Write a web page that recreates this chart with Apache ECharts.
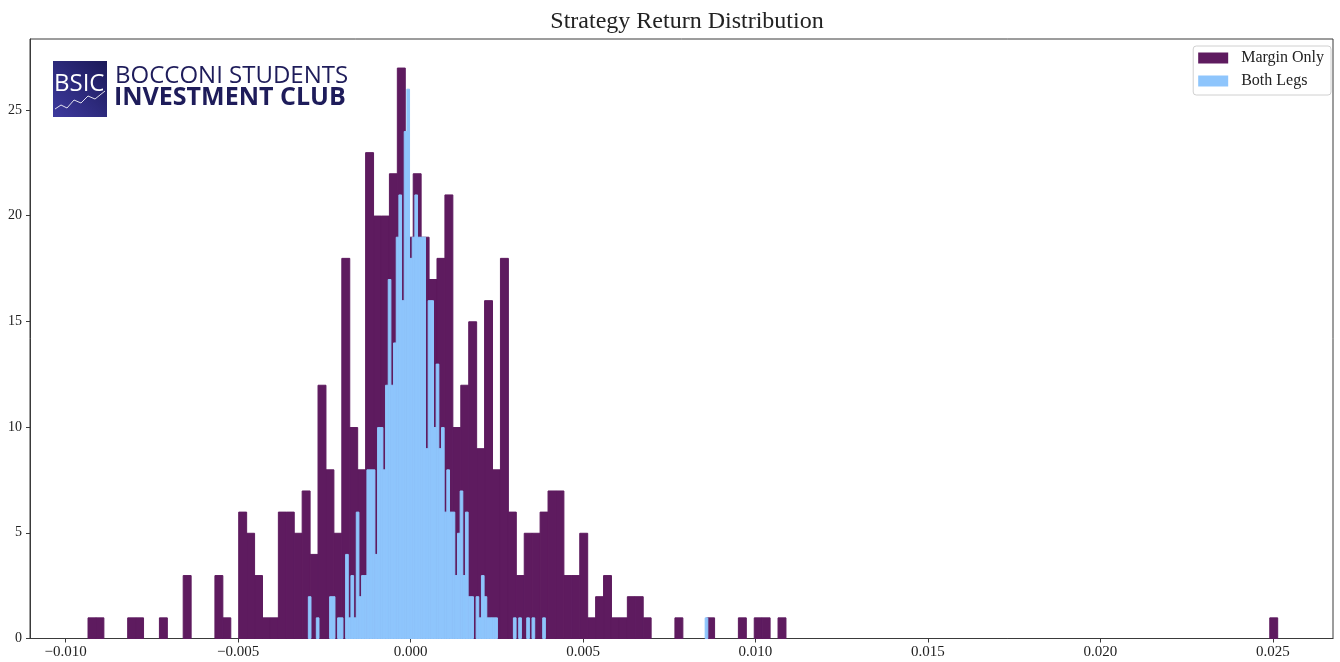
<!DOCTYPE html>
<html>
<head>
<meta charset="utf-8">
<title>Strategy Return Distribution</title>
<script src="https://cdn.jsdelivr.net/npm/echarts@6/dist/echarts.min.js"></script>
<style>
  html, body { margin: 0; padding: 0; background: #fff; }
  #chart { width: 1340px; height: 662px; }
</style>
</head>
<body>
<div id="chart"></div>
<script>
// histogram bins: first edge + bin width, counts per bin
const marginStart = -0.009348;
const marginWidth = 0.0002299;
const marginCounts = [
  1, 1, 0, 0, 0, 1, 1, 0, 0, 1,
  0, 0, 3, 0, 0, 0, 3, 1, 0, 6,
  5, 3, 1, 1, 6, 6, 5, 7, 4, 12,
  8, 5, 18, 10, 8, 23, 20, 20, 22, 27,
  19, 22, 19, 17, 18, 21, 10, 12, 15, 9,
  16, 8, 18, 6, 3, 5, 5, 6, 7, 7,
  3, 3, 5, 1, 2, 3, 1, 1, 2, 2,
  1, 0, 0, 0, 1, 0, 0, 0, 1, 0,
  0, 0, 1, 0, 1, 1, 0, 1, 0, 0,
  0, 0, 0, 0, 0, 0, 0, 0, 0, 0,
  0, 0, 0, 0, 0, 0, 0, 0, 0, 0,
  0, 0, 0, 0, 0, 0, 0, 0, 0, 0,
  0, 0, 0, 0, 0, 0, 0, 0, 0, 0,
  0, 0, 0, 0, 0, 0, 0, 0, 0, 0,
  0, 0, 0, 0, 0, 0, 0, 0, 0, 1
];

const bothStart = -0.002962;
const bothWidth = 0.0000772;
const bothCounts = [
  2, 0, 0, 1, 0, 0, 0, 0, 2, 2,
  0, 1, 1, 0, 4, 1, 3, 1, 6, 2,
  3, 3, 8, 8, 8, 4, 10, 10, 8, 12,
  17, 12, 14, 19, 21, 16, 24, 26, 18, 19,
  21, 19, 19, 19, 9, 16, 16, 10, 13, 9,
  10, 6, 8, 6, 6, 3, 5, 7, 3, 6,
  2, 2, 0, 2, 1, 3, 2, 1, 1, 1,
  1, 0, 0, 0, 0, 0, 0, 1, 0, 1,
  0, 0, 1, 0, 1, 0, 0, 0, 1, 0,
  0, 0, 0, 0, 0, 0, 0, 0, 0, 0,
  0, 0, 0, 0, 0, 0, 0, 0, 0, 0,
  0, 0, 0, 0, 0, 0, 0, 0, 0, 0,
  0, 0, 0, 0, 0, 0, 0, 0, 0, 0,
  0, 0, 0, 0, 0, 0, 0, 0, 0, 0,
  0, 0, 0, 0, 0, 0, 0, 0, 0, 1
];

const xTicks = [-0.010, -0.005, 0.000, 0.005, 0.010, 0.015, 0.020, 0.025];
const yTicks = [0, 5, 10, 15, 20, 25];

const seriesNames = ['Margin Only', 'Both Legs'];
const seriesColors = ['#5e1b5f', '#8ec5fc'];

const FONT = '"Liberation Serif", "DejaVu Serif", serif';

// [left edge, right edge, count], empty bins dropped
function toBins(start, width, counts) {
  const out = [];
  counts.forEach((c, i) => {
    if (c > 0) out.push([start + i * width, start + (i + 1) * width, c]);
  });
  return out;
}

function histSeries(name, color, data) {
  return {
    name: name,
    type: 'custom',
    itemStyle: { color: color },
    encode: { x: [0, 1], y: 2 },
    data: data,
    renderItem: (params, api) => {
      const p0 = api.coord([api.value(0), 0]);
      const p1 = api.coord([api.value(1), api.value(2)]);
      return {
        type: 'rect',
        shape: { x: p0[0], y: p1[1] + 0.5, width: p1[0] - p0[0], height: p0[1] - p1[1] - 0.5 },
        // stroke in the fill colour hides the seams between bins
        style: { fill: color, stroke: color, lineWidth: 1 }
      };
    }
  };
}

const chart = echarts.init(document.getElementById('chart'));

const option = {
  animation: false,
  title: {
    text: 'Strategy Return Distribution',
    left: 682,
    top: 5,
    textAlign: 'center',
    textStyle: { fontFamily: FONT, fontSize: 24, fontWeight: 'normal', color: '#222' }
  },
  legend: {
    data: seriesNames,
    orient: 'vertical',
    right: 9,
    top: 46,
    icon: 'rect',
    itemWidth: 30,
    itemHeight: 11,
    itemGap: 7,
    padding: [4, 7, 6, 5],
    borderColor: '#d0d0d0',
    borderWidth: 1,
    borderRadius: 3,
    backgroundColor: 'rgba(255,255,255,0.8)',
    textStyle: { fontFamily: FONT, fontSize: 16, color: '#222', padding: [0, 0, 0, 8] }
  },
  grid: {
    left: 30,
    right: 7,
    top: 39,
    bottom: 23.5,
    show: true,
    borderColor: '#3a3a3a',
    borderWidth: 1,
    backgroundColor: 'transparent'
  },
  xAxis: {
    type: 'value',
    min: -0.01103,
    max: 0.02674,
    splitLine: { show: false },
    axisLine: { show: true, onZero: false, lineStyle: { color: '#3a3a3a' } },
    axisTick: { show: true, inside: false, length: 4, customValues: xTicks, lineStyle: { color: '#3a3a3a' } },
    axisLabel: {
      customValues: xTicks,
      margin: 6,
      fontFamily: FONT,
      fontSize: 15,
      color: '#222',
      formatter: v => v.toFixed(3).replace('-', '\u2212')
    }
  },
  yAxis: {
    type: 'value',
    min: 0,
    max: 28.35,
    splitLine: { show: false },
    axisLine: { show: true, onZero: false, lineStyle: { color: '#3a3a3a' } },
    axisTick: { show: true, inside: false, length: 4, customValues: yTicks, lineStyle: { color: '#3a3a3a' } },
    axisLabel: {
      customValues: yTicks,
      margin: 8,
      fontFamily: FONT,
      fontSize: 14,
      color: '#222'
    }
  },
  // BSIC logo in the upper left corner
  graphic: [
    {
      type: 'rect',
      left: 53,
      top: 61,
      shape: { width: 54, height: 56 },
      style: {
        fill: new echarts.graphic.LinearGradient(1, 0, 0, 1, [
          { offset: 0, color: '#1b1958' },
          { offset: 1, color: '#3e3a9e' }
        ])
      }
    },
    {
      type: 'polyline',
      shape: { points: [[55, 109], [61, 105], [67, 108], [74, 100], [81, 103], [88, 96], [95, 99], [105, 91]] },
      style: { stroke: 'rgba(255,255,255,0.85)', lineWidth: 1, fill: null }
    },
    {
      type: 'text',
      left: 54,
      top: 72,
      style: { text: 'BSIC', fill: '#fff', font: '500 24px "Open Sans", sans-serif' }
    },
    {
      type: 'text',
      left: 115,
      top: 64,
      style: { text: 'BOCCONI STUDENTS', fill: '#1e1c5a', font: '24px "Open Sans", sans-serif' }
    },
    {
      type: 'text',
      left: 114,
      top: 85,
      style: { text: 'INVESTMENT CLUB', fill: '#1e1c5a', font: 'bold 25px "Open Sans", sans-serif' }
    }
  ],
  series: [
    histSeries(seriesNames[0], seriesColors[0], toBins(marginStart, marginWidth, marginCounts)),
    histSeries(seriesNames[1], seriesColors[1], toBins(bothStart, bothWidth, bothCounts))
  ]
};

chart.setOption(option);
</script>
</body>
</html>
